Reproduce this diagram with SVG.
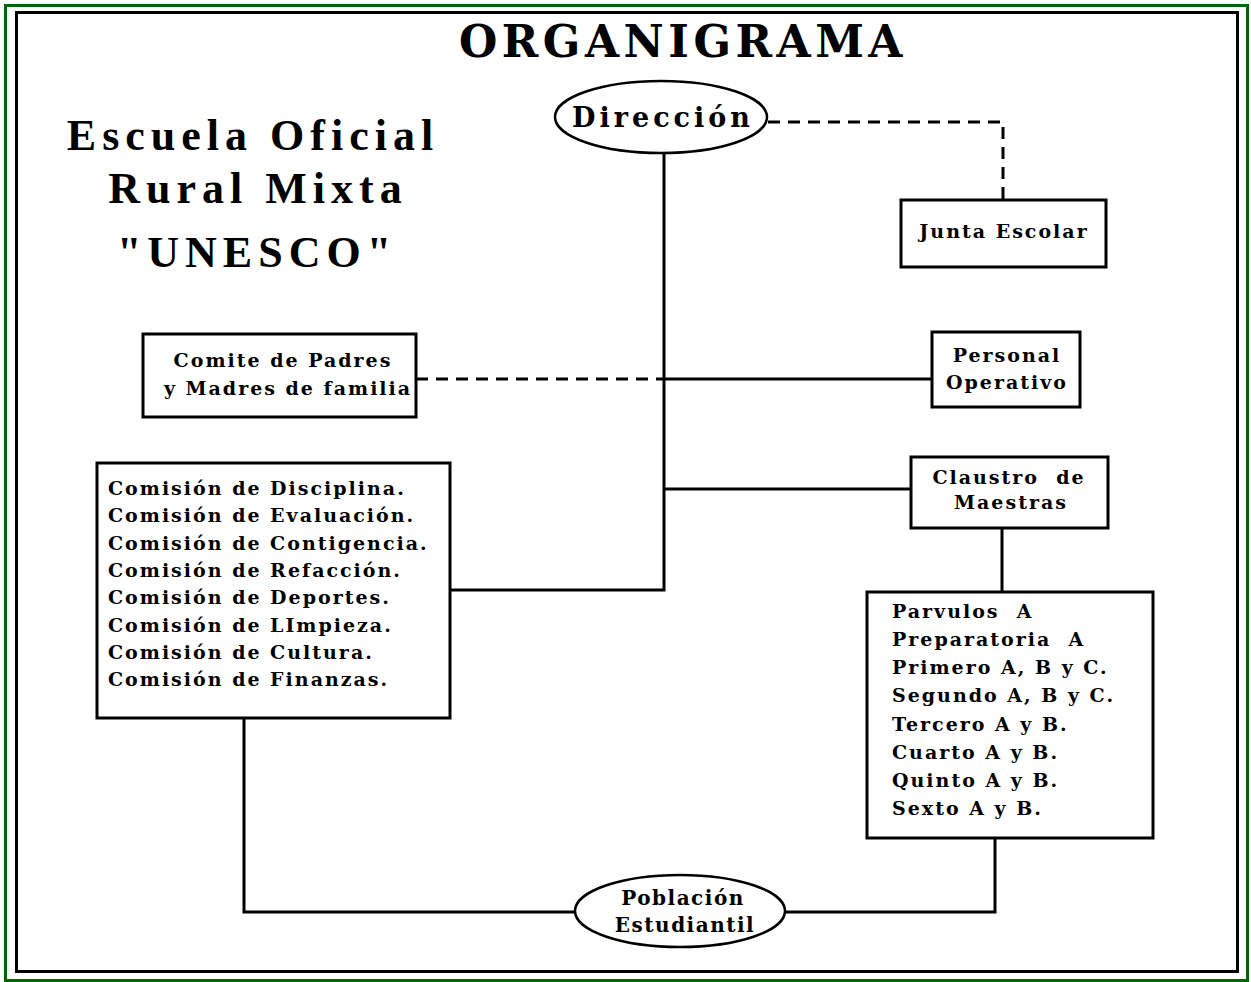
<svg xmlns="http://www.w3.org/2000/svg" width="1251" height="982" viewBox="0 0 1251 982">
<style>
.box{fill:#fff;stroke:#000;stroke-width:3}
.ell{fill:#fff;stroke:#000;stroke-width:2.5}
.ln{fill:none;stroke:#000;stroke-width:3}
.dash{fill:none;stroke:#000;stroke-width:3;stroke-dasharray:12 8}
.t{font-family:"DejaVu Serif",serif;font-weight:bold;fill:#000}
.n{font-size:19px;letter-spacing:2px}
.h{font-family:"Liberation Serif",serif;font-size:44px;text-anchor:middle;letter-spacing:6px}
</style>
<rect width="1251" height="982" fill="#fff"/>
<rect x="5.5" y="5.5" width="1242" height="975" fill="none" stroke="#006400" stroke-width="3"/>
<rect x="16.5" y="12.5" width="1221" height="959" fill="none" stroke="#000" stroke-width="3"/>
<text class="t" x="683" y="57" font-family="Liberation Serif" font-size="44" text-anchor="middle" letter-spacing="4.5">ORGANIGRAMA</text>
<g id="heading">
<text class="t h" x="253" y="150">Escuela Oficial</text>
<text class="t h" x="258" y="203">Rural Mixta</text>
<text class="t h" x="257" y="267">"UNESCO"</text>
</g>
<g id="connectors">
<path class="dash" d="M768 122 H1003 V200"/>
<path class="ln" d="M664 153 V590 H450"/>
<path class="ln" d="M664 489 H911"/>
<path class="dash" d="M416 379 H664"/>
<path class="ln" d="M664 379 H932"/>
<path class="ln" d="M1002 528 V592"/>
<path class="ln" d="M244 718 V912 H575"/>
<path class="ln" d="M785 912 H995 V838"/>
</g>
<g id="direccion">
<ellipse class="ell" cx="661" cy="117" rx="106" ry="36"/>
<text class="t" x="663" y="127" font-size="27" text-anchor="middle" letter-spacing="4">Dirección</text>
</g>
<g id="junta">
<rect class="box" x="901" y="200" width="205" height="67"/>
<text class="t n" x="1004" y="238" text-anchor="middle">Junta Escolar</text>
</g>
<g id="comite">
<rect class="box" x="143" y="334" width="273" height="83"/>
<text class="t n" x="283" y="367" text-anchor="middle">Comite de Padres</text>
<text class="t n" x="288" y="395" text-anchor="middle" letter-spacing="1.6">y Madres de familia</text>
</g>
<g id="personal">
<rect class="box" x="932" y="332" width="148" height="75"/>
<text class="t n" x="1007" y="362" text-anchor="middle">Personal</text>
<text class="t n" x="1007" y="389" text-anchor="middle">Operativo</text>
</g>
<g id="comisiones">
<rect class="box" x="97" y="463" width="353" height="255"/>
<text class="t n" x="108" y="495">Comisión de Disciplina.</text>
<text class="t n" x="108" y="522">Comisión de Evaluación.</text>
<text class="t n" x="108" y="550">Comisión de Contigencia.</text>
<text class="t n" x="108" y="577">Comisión de Refacción.</text>
<text class="t n" x="108" y="604">Comisión de Deportes.</text>
<text class="t n" x="108" y="632">Comisión de LImpieza.</text>
<text class="t n" x="108" y="659">Comisión de Cultura.</text>
<text class="t n" x="108" y="686">Comisión de Finanzas.</text>
</g>
<g id="claustro">
<rect class="box" x="911" y="457" width="197" height="71"/>
<text class="t n" x="1009" y="484" text-anchor="middle" xml:space="preserve">Claustro  de</text>
<text class="t n" x="1011" y="509" text-anchor="middle">Maestras</text>
</g>
<g id="grados">
<rect class="box" x="867" y="592" width="286" height="246"/>
<text class="t n" x="892" y="618" xml:space="preserve">Parvulos  A</text>
<text class="t n" x="892" y="646" xml:space="preserve">Preparatoria  A</text>
<text class="t n" x="892" y="674">Primero A, B y C.</text>
<text class="t n" x="892" y="702">Segundo A, B y C.</text>
<text class="t n" x="892" y="731">Tercero A y B.</text>
<text class="t n" x="892" y="759">Cuarto A y B.</text>
<text class="t n" x="892" y="787">Quinto A y B.</text>
<text class="t n" x="892" y="815">Sexto A y B.</text>
</g>
<g id="poblacion">
<ellipse class="ell" cx="680" cy="911" rx="105" ry="36"/>
<text class="t" x="683" y="905" font-size="20" letter-spacing="1.5" text-anchor="middle">Población</text>
<text class="t" x="685" y="932" font-size="20" letter-spacing="1.5" text-anchor="middle">Estudiantil</text>
</g>
</svg>
